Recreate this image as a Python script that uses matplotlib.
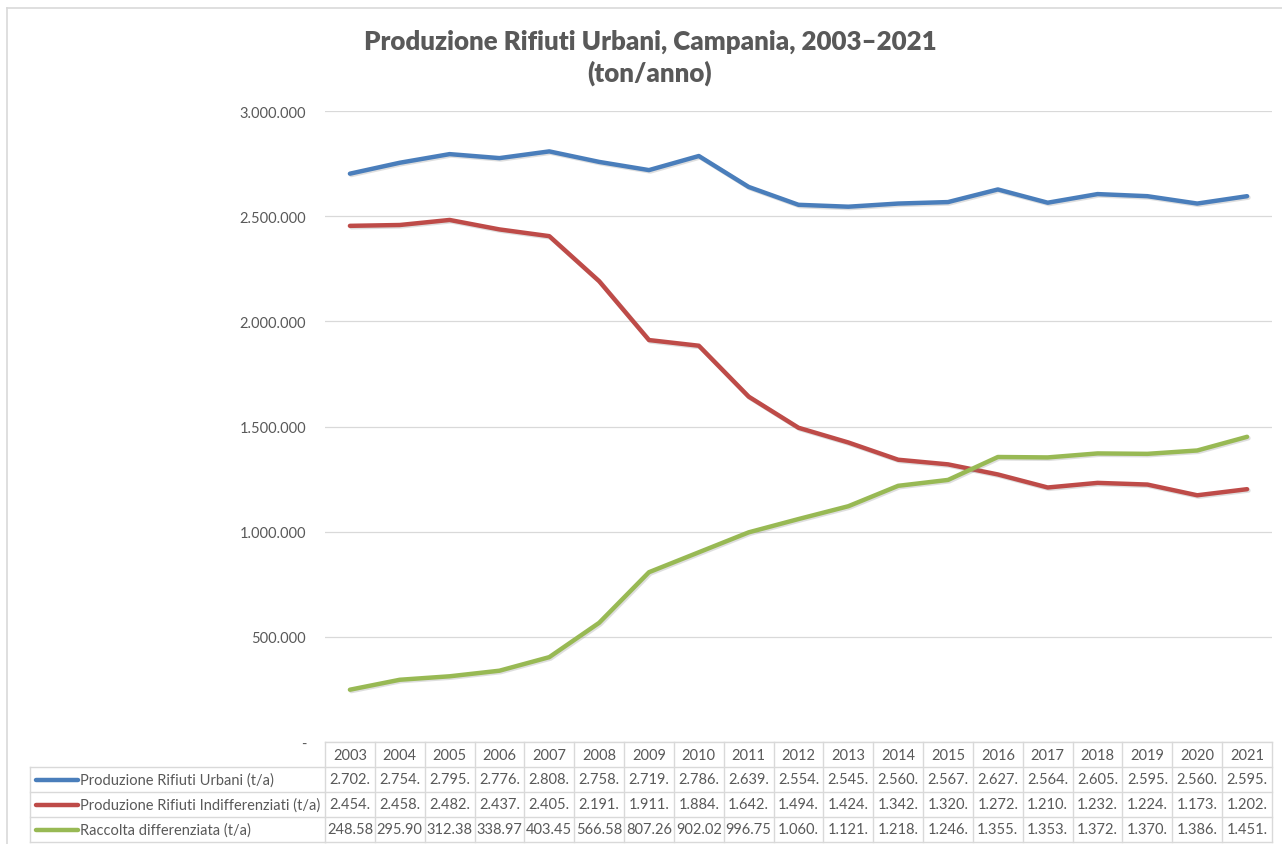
import matplotlib
matplotlib.use("Agg")
import matplotlib.pyplot as plt
from matplotlib import patheffects as pe
from matplotlib.transforms import blended_transform_factory
from matplotlib.lines import Line2D
from matplotlib.ticker import FuncFormatter

# --- data -------------------------------------------------------------
years = [2003, 2004, 2005, 2006, 2007, 2008, 2009, 2010, 2011, 2012,
         2013, 2014, 2015, 2016, 2017, 2018, 2019, 2020, 2021]

rifiuti_urbani = [2702000, 2754000, 2795000, 2776000, 2808000, 2758000,
                  2719000, 2786000, 2639000, 2554000, 2545000, 2560000,
                  2567000, 2627000, 2564000, 2605000, 2595000, 2560000,
                  2595000]
rifiuti_indiff = [2454000, 2458000, 2482000, 2437000, 2405000, 2191000,
                  1911000, 1884000, 1642000, 1494000, 1424000, 1342000,
                  1320000, 1272000, 1210000, 1232000, 1224000, 1173000,
                  1202000]
raccolta_diff = [248580, 295900, 312380, 338970, 403450, 566580, 807260,
                 902020, 996750, 1060000, 1121000, 1218000, 1246000,
                 1355000, 1353000, 1372000, 1370000, 1386000, 1451000]

series_names = ["Produzione Rifiuti Urbani (t/a)",
                "Produzione Rifiuti Indifferenziati (t/a)",
                "Raccolta differenziata (t/a)"]
series_values = [rifiuti_urbani, rifiuti_indiff, raccolta_diff]
series_colors = ["#4a7ebb", "#be4b48", "#98b954"]

y_ticks = [0, 500000, 1000000, 1500000, 2000000, 2500000, 3000000]

title_text = "Produzione Rifiuti Urbani, Campania, 2003\u20132021\n(ton/anno)"

# --- style ------------------------------------------------------------
FONT = "Lato"
TEXT_C = "#595959"
GRID_C = "#d9d9d9"
W, H = 1282, 845

plt.rcParams["font.family"] = [FONT, "DejaVu Sans"]

fig = plt.figure(figsize=(W / 100, H / 100), dpi=100)
fig.patch.set_facecolor("white")


def fx(px):
    return px / W


def fy(py):
    return 1 - py / H


# outer chart border (top/left visible)
fig.add_artist(Line2D([fx(7), fx(1290)], [fy(8.5), fy(8.5)], color="#d9d9d9",
                      lw=1.2, transform=fig.transFigure))
fig.add_artist(Line2D([fx(7), fx(7)], [fy(8.5), fy(850)], color="#d9d9d9",
                      lw=1.2, transform=fig.transFigure))

# plot area
left_px, right_px, top_px, bottom_px = 325, 1272, 112, 743
ax = fig.add_axes([fx(left_px), fy(bottom_px), fx(right_px - left_px),
                   (bottom_px - top_px) / H])
ax.set_facecolor("none")
ax.set_xlim(-0.5, len(years) - 0.5)
ax.set_ylim(0, 3000000)
ax.set_yticks(y_ticks)


def it_fmt(v, pos=None):
    if v == 0:
        return "-"
    return f"{int(v):,}".replace(",", ".")


ax.yaxis.set_major_formatter(FuncFormatter(it_fmt))
ax.tick_params(axis="y", length=0, pad=13.5, labelsize=10.5,
               labelcolor=TEXT_C)
ax.set_xticks([])
for s in ax.spines.values():
    s.set_visible(False)
ax.grid(axis="y", color=GRID_C, lw=0.9)
ax.set_axisbelow(True)

shadow = [pe.SimpleLineShadow(offset=(1.0, -1.0), shadow_color="#7f7f7f",
                              alpha=0.25), pe.Normal()]
xs = list(range(len(years)))
for vals, col in zip(series_values, series_colors):
    ax.plot(xs, vals, color=col, lw=3.2, solid_capstyle="round",
            solid_joinstyle="round", path_effects=shadow, zorder=3)

# title
fig.text(fx(650), fy(58), title_text, ha="center", va="center",
         fontsize=18.6, fontweight="heavy", color="#595959", linespacing=1.3)

# --- data table -------------------------------------------------------
tr = blended_transform_factory(ax.transData, fig.transFigure)
row_top = [743, 768, 793, 818]
row_bot = 843
tab_fs = 10.5

# horizontal rules of the value grid
for py in row_top + [row_bot]:
    ax.add_line(Line2D([-0.5, len(years) - 0.5], [fy(py), fy(py)],
                       transform=tr, color=GRID_C, lw=1.0, clip_on=False))
# vertical rules of the value grid
for i in range(len(years) + 1):
    ax.add_line(Line2D([i - 0.5, i - 0.5], [fy(743), fy(row_bot)],
                       transform=tr, color=GRID_C, lw=1.0, clip_on=False))
# label column frame
label_left = 30
for py in row_top[1:] + [row_bot]:
    fig.add_artist(Line2D([fx(label_left), fx(left_px)], [fy(py), fy(py)],
                          color=GRID_C, lw=1.0, transform=fig.transFigure))
fig.add_artist(Line2D([fx(label_left), fx(label_left)],
                      [fy(768), fy(row_bot)], color=GRID_C, lw=1.0,
                      transform=fig.transFigure))

# header row: years
for i, yr in enumerate(years):
    ax.text(i, fy(756), str(yr), transform=tr, ha="center", va="center",
            fontsize=tab_fs, color=TEXT_C, clip_on=False)

# value rows
for r, (name, vals, col) in enumerate(zip(series_names, series_values,
                                           series_colors)):
    yc = fy((row_top[r + 1] + (row_top[r + 2] if r + 2 < len(row_top)
                                else row_bot)) / 2)
    fig.add_artist(Line2D([fx(36), fx(78)], [yc, yc], color=col, lw=3.2,
                          solid_capstyle="round", transform=fig.transFigure))
    fig.text(fx(80), yc, name, ha="left", va="center", fontsize=tab_fs,
             color=TEXT_C)
    for i, v in enumerate(vals):
        s = f"{v:,}".replace(",", ".")[:6]
        ax.text(i, yc, s, transform=tr, ha="center", va="center",
                fontsize=tab_fs, color=TEXT_C, clip_on=False)

fig.savefig("out.png", dpi=100, facecolor="white")
